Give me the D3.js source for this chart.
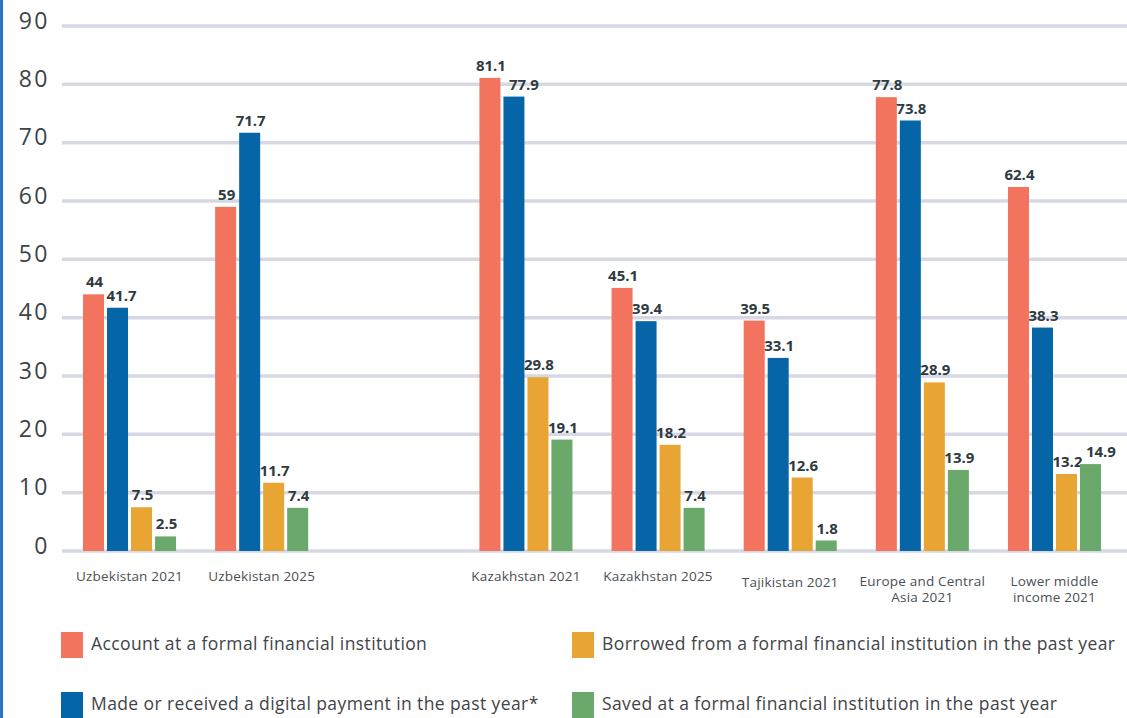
<!DOCTYPE html>
<html>
<head>
<meta charset="utf-8">
<script src="https://cdn.jsdelivr.net/npm/d3@7"></script>
<style>
  html, body { margin: 0; padding: 0; background: #ffffff; }
  svg { display: block; }
</style>
</head>
<body>
<svg id="chart" width="1127" height="718"></svg>
<script>
// ---------- DATA ----------
const slots = ["Uzbekistan 2021", "Uzbekistan 2025", "", "Kazakhstan 2021", "Kazakhstan 2025",
               "Tajikistan 2021", "Europe and Central\nAsia 2021", "Lower middle\nincome 2021"];
const categories = ["Uzbekistan 2021", "Uzbekistan 2025", "Kazakhstan 2021", "Kazakhstan 2025",
                    "Tajikistan 2021", "Europe and Central\nAsia 2021", "Lower middle\nincome 2021"];
const seriesNames = ["Account at a formal financial institution",
                     "Made or received a digital payment in the past year*",
                     "Borrowed from a formal financial institution in the past year",
                     "Saved at a formal financial institution in the past year"];
const account   = [44, 59, 81.1, 45.1, 39.5, 77.8, 62.4];
const digital   = [41.7, 71.7, 77.9, 39.4, 33.1, 73.8, 38.3];
const borrowed  = [7.5, 11.7, 29.8, 18.2, 12.6, 28.9, 13.2];
const saved     = [2.5, 7.4, 19.1, 7.4, 1.8, 13.9, 14.9];
const yTicks = [0, 10, 20, 30, 40, 50, 60, 70, 80, 90];
const colors = ["#f2735e", "#0565a7", "#e9a534", "#6aa96b"];

// ---------- LAYOUT ----------
const svg = d3.select("#chart");
const W = 1127, H = 718;
const series = [account, digital, borrowed, saved];

// left blue border
svg.append("rect").attr("x", 0).attr("y", 0).attr("width", 3).attr("height", H).attr("fill", "#2a74c2");

const y = d3.scaleLinear().domain([0, 90]).range([551, 26]);
const x = d3.scaleBand().domain(slots).range([62, 1122]).paddingInner(0.296).paddingOuter(0.159);
const xs = d3.scaleBand().domain(d3.range(series.length)).range([0, x.bandwidth()]).paddingInner(0.125).paddingOuter(0);

// gridlines
svg.append("g").selectAll("line").data(yTicks).join("line")
  .attr("x1", 62).attr("x2", W)
  .attr("y1", d => y(d)).attr("y2", d => y(d))
  .attr("stroke", "#d6d9e4").attr("stroke-width", 3.5);

// y axis labels
const yAxis = d3.axisLeft(y).tickValues(yTicks).tickSize(0).tickPadding(0).tickFormat(d3.format("d"));
const ya = svg.append("g").attr("transform", "translate(50,0)").call(yAxis);
ya.select(".domain").remove();
ya.selectAll("text")
  .attr("font-family", "'Open Sans', sans-serif").attr("font-size", 23).attr("font-weight", 400)
  .attr("letter-spacing", 2.5)
  .attr("fill", "#3d4347").attr("dy", "0.1em");

// bars
const groups = svg.append("g").selectAll("g").data(categories).join("g")
  .attr("transform", d => `translate(${x(d)},0)`);

groups.each(function(cat, ci) {
  const g = d3.select(this);
  let prev = null;
  series.forEach((s, si) => {
    const v = s[ci];
    g.append("rect")
      .attr("x", xs(si)).attr("width", xs.bandwidth())
      .attr("y", y(v)).attr("height", y(0) - y(v))
      .attr("fill", colors[si]);
    const t = g.append("text")
      .attr("x", xs(si) + xs.bandwidth() / 2 + 1)
      .attr("y", y(v) - 7)
      .attr("text-anchor", "middle")
      .attr("font-family", "'Open Sans', sans-serif").attr("font-size", 15).attr("font-weight", 700)
      .attr("fill", "#2e3a40")
      .text(d3.format("~g")(v));
    // nudge right if it collides with the previous label
    if (prev) {
      const a = prev.node().getBBox(), b = t.node().getBBox();
      const vOverlap = !(b.y + b.height < a.y || a.y + a.height < b.y);
      const hOverlap = a.x + a.width + 3 - b.x;
      if (vOverlap && hOverlap > 0) t.attr("x", +t.attr("x") + hOverlap);
    }
    prev = t;
  });
});

// category labels
const extraDy = { "Tajikistan 2021": 6 };
categories.forEach(cat => {
  const lines = cat.split("\n");
  const cx = x(cat) + x.bandwidth() / 2;
  const baseY = lines.length > 1 ? 586 : 581 + (extraDy[cat] || 0);
  const t = svg.append("text")
    .attr("text-anchor", "middle")
    .attr("font-family", "'Open Sans', sans-serif").attr("font-size", 13.5)
    .attr("letter-spacing", 0.2)
    .attr("fill", "#4a4f55");
  lines.forEach((ln, i) => {
    t.append("tspan").attr("x", cx).attr("y", baseY + i * 16).text(ln);
  });
});

// legend
const legendPos = [[61, 632], [61, 692], [572, 632], [572, 692]];
seriesNames.forEach((name, i) => {
  const [lx, ly] = legendPos[i];
  svg.append("rect").attr("x", lx).attr("y", ly).attr("width", 22).attr("height", 26).attr("fill", colors[i]);
  svg.append("text")
    .attr("x", lx + 30).attr("y", ly + 18)
    .attr("font-family", "'Open Sans', sans-serif").attr("font-size", 17.5)
    .attr("letter-spacing", 0.4)
    .attr("fill", "#3f4448")
    .text(name);
});
</script>
</body>
</html>
